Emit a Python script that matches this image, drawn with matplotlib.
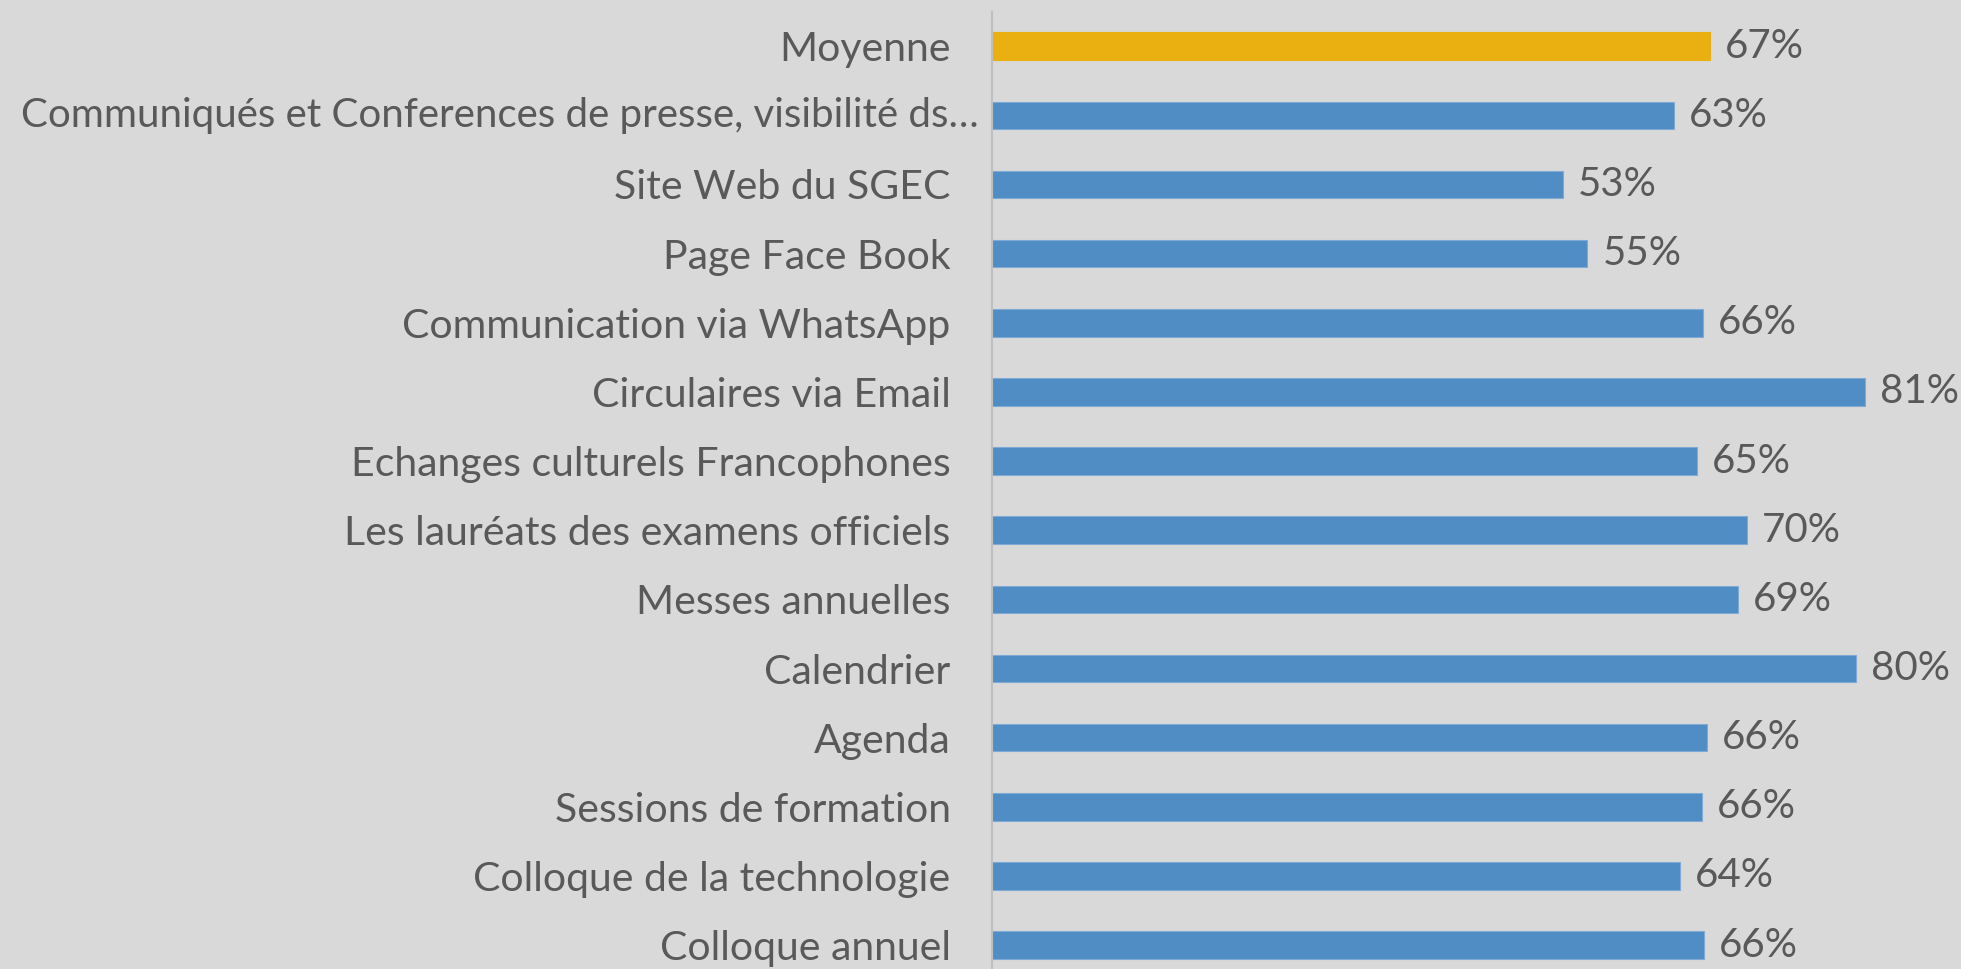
import numpy as np
import matplotlib.pyplot as plt

categories = [
    "Moyenne",
    "Communiqués et Conferences de presse, visibilité ds…",
    "Site Web du SGEC",
    "Page Face Book",
    "Communication via WhatsApp",
    "Circulaires via Email",
    "Echanges culturels Francophones",
    "Les lauréats des examens officiels",
    "Messes annuelles",
    "Calendrier",
    "Agenda",
    "Sessions de formation",
    "Colloque de la technologie",
    "Colloque annuel",
]
values = [0.667, 0.633, 0.530, 0.553, 0.660, 0.811, 0.655, 0.701, 0.693, 0.802, 0.664, 0.659, 0.639, 0.661]
labels = ["67%", "63%", "53%", "55%", "66%", "81%", "65%", "70%", "69%", "80%", "66%", "66%", "64%", "66%"]

bg = "#D9D9D9"
blue = "#4F8DC4"
gold = "#EAAF10"
txt = "#595959"

plt.rcParams['font.family'] = ['Lato', 'DejaVu Sans']

fig = plt.figure(figsize=(19.61, 9.69), dpi=100, facecolor=bg)
ax = fig.add_axes([0.506, -0.011, 0.494, 0.999])
ax.set_facecolor(bg)

y = np.arange(len(categories))
colors = [gold] + [blue] * (len(categories) - 1)
ax.barh(y, values, height=0.4, color=colors, edgecolor=[gold] + ["#7FA9D6"] * (len(categories) - 1), linewidth=0.8)

for yi, v, lab in zip(y, values, labels):
    ax.text(v + 0.014, yi, lab, va='center', ha='left', fontsize=29, color=txt)

# the long (truncated) label sits closer to the axis, as in the original
ticklabels = list(categories)
ticklabels[1] = ""
ax.set_yticks(y)
ax.set_yticklabels(ticklabels, fontsize=29.5, color=txt)
ax.annotate(categories[1], xy=(0, 1), xycoords='data', xytext=(-10, 0), textcoords='offset points',
            ha='right', va='center', fontsize=29, color=txt)
ax.tick_params(axis='y', length=0, pad=30)
ax.set_xticks([])
ax.set_ylim(len(categories) - 0.5, -0.5)
ax.set_xlim(0, 0.9)

for s in ['top', 'right', 'bottom']:
    ax.spines[s].set_visible(False)
ax.spines['left'].set_color("#BFBFBF")
ax.spines['left'].set_linewidth(1.5)

fig.savefig("out.png", dpi=100, facecolor=bg)
